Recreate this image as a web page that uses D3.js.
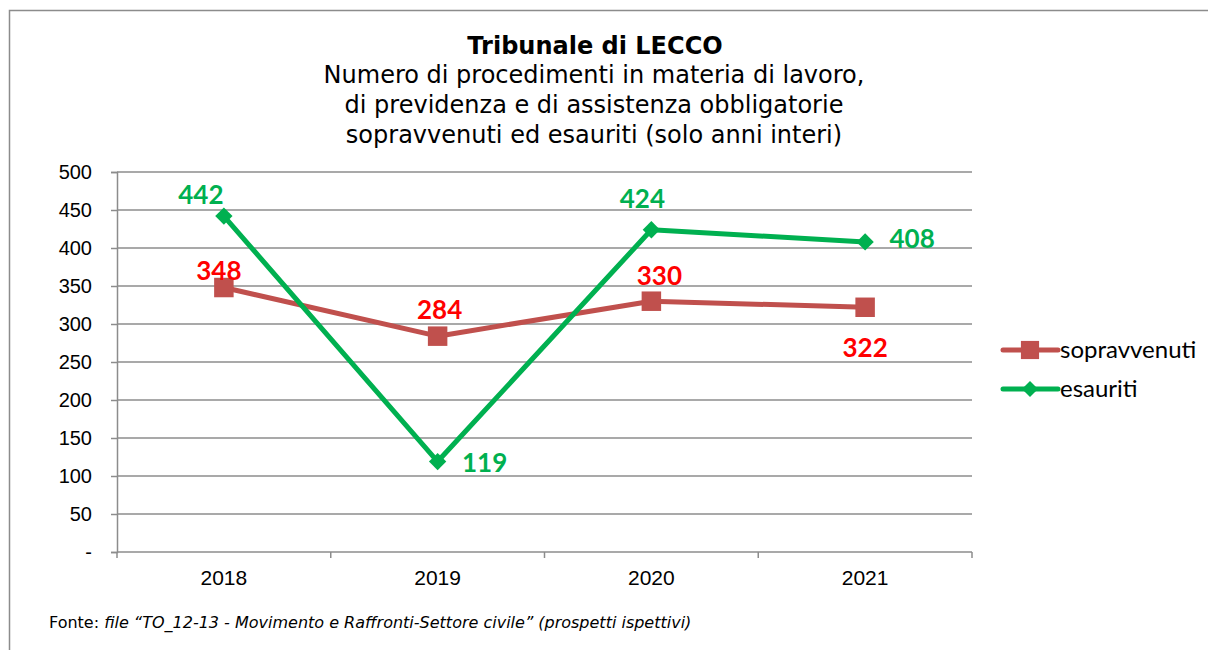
<!DOCTYPE html>
<html>
<head>
<meta charset="utf-8">
<script src="https://cdn.jsdelivr.net/npm/d3@7"></script>
<style>
  body { margin: 0; background: #fff; }
  svg { display: block; }
</style>
</head>
<body>
<div id="chart"></div>
<script>
/************ Data ************/
var years = ['2018', '2019', '2020', '2021'];
var sopravvenuti = [348, 284, 330, 322];
var esauriti = [442, 119, 424, 408];
var yTicks = [0, 50, 100, 150, 200, 250, 300, 350, 400, 450, 500];
var titleText = 'Tribunale di LECCO';
var subtitleLines = ['Numero di procedimenti in materia di lavoro,',
	'di previdenza e di assistenza obbligatorie',
	'sopravvenuti ed esauriti (solo anni interi)'];
var seriesNames = ['sopravvenuti', 'esauriti'];

/************ Layout ************/
var width = 1208, height = 650;
var plotLeft = 117, plotRight = 972, plotTop = 172, plotBottom = 552;
var colorSop = '#c0504d', colorEsa = '#00b050';
var labelSop = '#ff0000', labelEsa = '#00b050';

var svg = d3.select('#chart').append('svg')
	.attr('width', width)
	.attr('height', height);

// outer frame
svg.append('rect')
	.attr('x', 9.5).attr('y', 10.5)
	.attr('width', 1210).attr('height', 660)
	.attr('fill', 'none').attr('stroke', '#8c8c8c').attr('stroke-width', 1.5);

var x = d3.scaleBand().domain(years).range([plotLeft, plotRight]);
var y = d3.scaleLinear().domain([0, 500]).range([plotBottom, plotTop]);

// gridlines
svg.append('g').selectAll('line')
	.data(yTicks.slice(1))
	.enter().append('line')
		.attr('x1', plotLeft).attr('x2', plotRight)
		.attr('y1', function(d) { return y(d); })
		.attr('y2', function(d) { return y(d); })
		.attr('stroke', '#8c8c8c').attr('stroke-width', 1.5);

// y axis
var yAxis = svg.append('g')
	.attr('transform', 'translate(' + plotLeft + ',0)')
	.call(d3.axisLeft(y).tickValues(yTicks).tickSize(6).tickPadding(19)
		.tickFormat(function(d) { return d === 0 ? '-' : d; }));
yAxis.select('.domain').attr('stroke', '#8c8c8c').attr('stroke-width', 1.5);
yAxis.selectAll('.tick line').attr('stroke', '#8c8c8c').attr('stroke-width', 1.5);
yAxis.selectAll('text')
	.attr('font-family', 'Liberation Sans, Arial, sans-serif')
	.attr('font-size', 20).attr('fill', '#000');

// x axis
var xAxis = svg.append('g')
	.attr('transform', 'translate(0,' + plotBottom + ')');
xAxis.append('line')
	.attr('x1', plotLeft).attr('x2', plotRight)
	.attr('stroke', '#8c8c8c').attr('stroke-width', 1.5);
xAxis.selectAll('.xtick')
	.data(years.concat(['end']))
	.enter().append('line')
		.attr('x1', function(d, i) { return plotLeft + i * x.bandwidth(); })
		.attr('x2', function(d, i) { return plotLeft + i * x.bandwidth(); })
		.attr('y1', 0).attr('y2', 6)
		.attr('stroke', '#8c8c8c').attr('stroke-width', 1.5);
xAxis.selectAll('.xlabel')
	.data(years)
	.enter().append('text')
		.attr('x', function(d) { return x(d) + x.bandwidth() / 2; })
		.attr('y', 33)
		.attr('text-anchor', 'middle')
		.attr('font-family', 'Liberation Sans, Arial, sans-serif')
		.attr('font-size', 21)
		.text(function(d) { return d; });

// lines
var line = d3.line()
	.x(function(d, i) { return x(years[i]) + x.bandwidth() / 2; })
	.y(function(d) { return y(d); });

svg.append('path').datum(sopravvenuti)
	.attr('d', line).attr('fill', 'none')
	.attr('stroke', colorSop).attr('stroke-width', 5).attr('stroke-linejoin', 'round');
svg.append('path').datum(esauriti)
	.attr('d', line).attr('fill', 'none')
	.attr('stroke', colorEsa).attr('stroke-width', 5).attr('stroke-linejoin', 'round');

// markers
svg.selectAll('.m-sop').data(sopravvenuti)
	.enter().append('path')
		.attr('d', d3.symbol().type(d3.symbolSquare).size(380))
		.attr('transform', function(d, i) { return 'translate(' + (x(years[i]) + x.bandwidth() / 2) + ',' + y(d) + ')'; })
		.attr('fill', colorSop);
svg.selectAll('.m-esa').data(esauriti)
	.enter().append('path')
		.attr('d', d3.symbol().type(d3.symbolSquare).size(150))
		.attr('transform', function(d, i) { return 'translate(' + (x(years[i]) + x.bandwidth() / 2) + ',' + y(d) + ') rotate(45)'; })
		.attr('fill', colorEsa);

// data labels (offsets relative to point)
var sopOffsets = [[-5, -8], [2, -17], [8, -16], [0, 50]];
var esaOffsets = [[-23, -12], [47, 10], [-9, -22], [47, 6]];
function labelFont(sel) {
	sel.attr('font-family', 'Lato, Calibri, sans-serif')
		.attr('font-weight', 'bold')
		.attr('font-size', 26)
		.attr('text-anchor', 'middle');
}
svg.selectAll('.l-sop').data(sopravvenuti)
	.enter().append('text')
		.call(labelFont)
		.attr('x', function(d, i) { return x(years[i]) + x.bandwidth() / 2 + sopOffsets[i][0]; })
		.attr('y', function(d, i) { return y(d) + sopOffsets[i][1]; })
		.attr('fill', labelSop)
		.text(function(d) { return d; });
svg.selectAll('.l-esa').data(esauriti)
	.enter().append('text')
		.call(labelFont)
		.attr('x', function(d, i) { return x(years[i]) + x.bandwidth() / 2 + esaOffsets[i][0]; })
		.attr('y', function(d, i) { return y(d) + esaOffsets[i][1]; })
		.attr('fill', labelEsa)
		.text(function(d) { return d; });

// title
svg.append('text')
	.attr('x', 595).attr('y', 54)
	.attr('text-anchor', 'middle')
	.attr('font-family', 'DejaVu Sans, Verdana, sans-serif')
	.attr('font-weight', 'bold').attr('font-size', 24)
	.text(titleText);
svg.selectAll('.subtitle').data(subtitleLines)
	.enter().append('text')
		.attr('x', 594)
		.attr('y', function(d, i) { return 83 + i * 30; })
		.attr('text-anchor', 'middle')
		.attr('font-family', 'DejaVu Sans, Verdana, sans-serif')
		.attr('font-size', 24)
		.text(function(d) { return d; });

// legend
var legend = svg.append('g').attr('transform', 'translate(1003,350)');
var legendColors = [colorSop, colorEsa];
seriesNames.forEach(function(name, i) {
	var g = legend.append('g').attr('transform', 'translate(0,' + (i * 39) + ')');
	g.append('line').attr('x1', 0).attr('x2', 55)
		.attr('stroke', legendColors[i]).attr('stroke-width', 5).attr('stroke-linecap', 'round');
	g.append('path')
		.attr('d', d3.symbol().type(d3.symbolSquare).size(i === 0 ? 330 : 130))
		.attr('transform', 'translate(27,0)' + (i === 1 ? ' rotate(45)' : ''))
		.attr('fill', legendColors[i]);
	g.append('text').attr('x', 57).attr('y', 8)
		.attr('font-family', 'Lato, Calibri, sans-serif')
		.attr('font-size', 24)
		.text(name);
});

// footer
var foot = svg.append('text')
	.attr('x', 49).attr('y', 628)
	.attr('font-family', 'DejaVu Sans, Verdana, sans-serif')
	.attr('font-size', 16);
foot.append('tspan').text('Fonte: ');
foot.append('tspan').attr('font-style', 'italic')
	.text('file \u201cTO_12-13 - Movimento e Raffronti-Settore civile\u201d (prospetti ispettivi)');
</script>
</body>
</html>
